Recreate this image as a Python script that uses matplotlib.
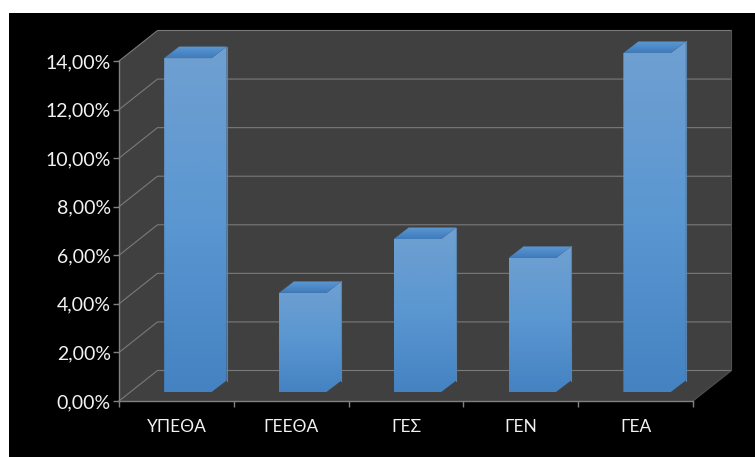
import numpy as np
import matplotlib
matplotlib.use('Agg')
import matplotlib.pyplot as plt
from matplotlib.colors import LinearSegmentedColormap
from matplotlib.patches import Polygon, Rectangle
from matplotlib.ticker import FuncFormatter

categories = ['ΥΠΕΘΑ', 'ΓΕΕΘΑ', 'ΓΕΣ', 'ΓΕΝ', 'ΓΕΑ']
values = [13.75, 4.08, 6.30, 5.52, 13.96]
yticks = [0, 2, 4, 6, 8, 10, 12, 14]

plt.rcParams['font.family'] = ['Lato', 'Open Sans', 'DejaVu Sans']

W, H = 755, 457
fig = plt.figure(figsize=(W / 100, H / 100), dpi=100, facecolor='white')
fig.patches.append(Rectangle((9 / W, 0), 1 - 9 / W, 1 - 13 / H, transform=fig.transFigure,
                             facecolor='black', edgecolor='none', zorder=-10))

# axes = front plane of the 3d box
ax = fig.add_axes([119 / W, 1 - 401 / H, (693 - 119) / W, (401 - 61) / H])
ax.patch.set_visible(False)
ax.set_xlim(0, 5)
ax.set_ylim(0, 14)

# depth of box and of bars in data units
px_x = 5 / (693 - 119)
px_y = 14 / (401 - 61)
dx, dy = 38.5 * px_x, 30.5 * px_y
bx, by = 11.5 * px_x, 9 * px_y
sx, sy = 15 * px_x, 11.5 * px_y
bar_w = 47.5 * px_x

wall = '#404040'
grid = '#7a7a7a'
# walls and floor as one shape, no seams
ax.add_patch(Polygon([(0, 0), (5, 0), (5 + dx, dy), (5 + dx, 14 + dy), (dx, 14 + dy), (0, 14)],
                     fc=wall, ec='none', clip_on=False, zorder=0))
for v in yticks:
    ax.plot([0, dx, 5 + dx], [v, v + dy, v + dy], color=grid, lw=0.8, clip_on=False, zorder=1)
ax.plot([5, 5 + dx, 5 + dx], [0, dy, 14 + dy], color='#505050', lw=0.8, clip_on=False, zorder=1)

front_cmap = LinearSegmentedColormap.from_list('front', ['#4482c2', '#5b97d1', '#70a0d1'])
top_cmap = LinearSegmentedColormap.from_list('top', ['#3f7bbb', '#5b98d3'])


def shade(poly, cmap, zorder):
    pts = np.array(poly)
    grad = np.linspace(1, 0, 256).reshape(-1, 1)
    im = ax.imshow(grad, cmap=cmap, vmin=0, vmax=1, aspect='auto', zorder=zorder,
                   extent=[pts[:, 0].min(), pts[:, 0].max(), pts[:, 1].min(), pts[:, 1].max()])
    clip = Polygon(poly, transform=ax.transData, fc='none', ec='none')
    im.set_clip_box(fig.bbox)
    im.set_clip_path(clip)


for i, val in enumerate(values):
    left = i + 0.5 - bar_w / 2 + bx
    right = left + bar_w
    base = by
    top = by + val
    # front and side share one gradient, the side is not really visible in the original
    shade([(left, base), (right, base), (right + sx, base + sy), (right + sx, top + sy), (right, top), (left, top)], front_cmap, 3)
    shade([(left, top), (right, top), (right + sx, top + sy), (left + sx, top + sy)], top_cmap, 4)
    ax.plot([right + sx, right + sx], [base + sy, top + sy], color='#5b84ad', lw=0.8, clip_on=False, zorder=5)

ax.set_xlim(0, 5)
ax.set_ylim(0, 14)

for name in ['top', 'right']:
    ax.spines[name].set_visible(False)
for name in ['left', 'bottom']:
    ax.spines[name].set_color('#808080')
    ax.spines[name].set_linewidth(1)
    ax.spines[name].set_zorder(6)

ax.set_yticks(yticks)
ax.yaxis.set_major_formatter(FuncFormatter(lambda v, p: f'{v:.2f}%'.replace('.', ',')))
ax.tick_params(axis='y', colors='#f2f2f2', color='#808080', length=4, width=1, pad=2, labelsize=14)
ax.set_xticks(range(6))
ax.set_xticklabels([])
ax.tick_params(axis='x', which='major', color='#808080', length=4, width=1)
ax.set_xticks(np.arange(5) + 0.5, minor=True)
ax.set_xticklabels(categories, minor=True)
ax.tick_params(axis='x', which='minor', length=0, pad=13, labelsize=12.5, labelcolor='#f2f2f2')

fig.savefig('out.png', dpi=100, facecolor='white')
